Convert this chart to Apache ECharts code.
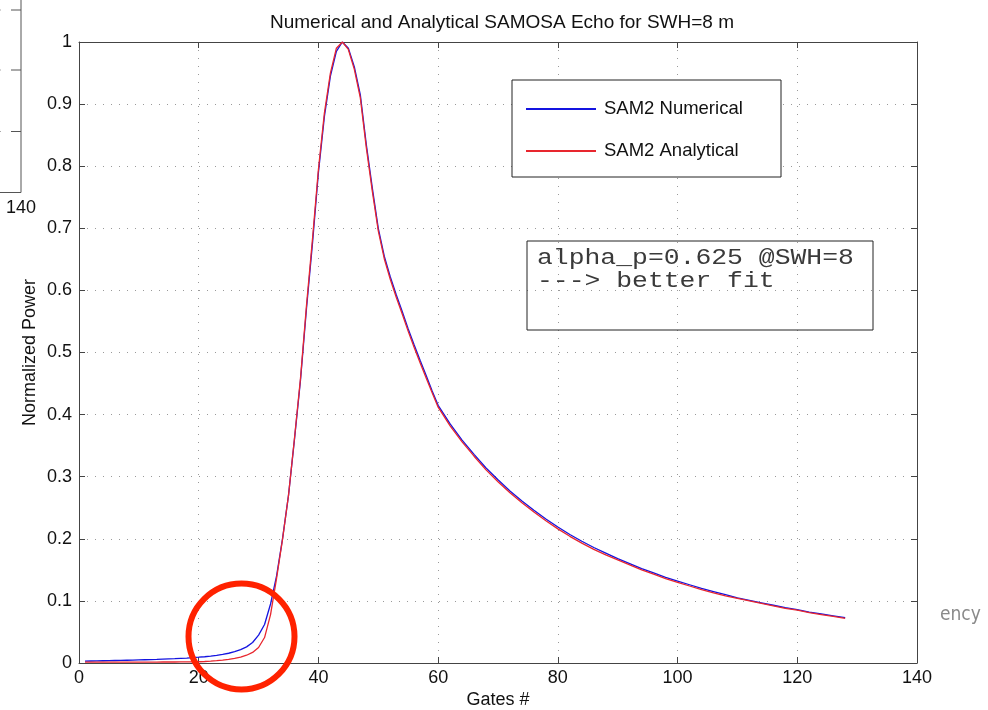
<!DOCTYPE html>
<html>
<head>
<meta charset="utf-8">
<script src="https://cdn.jsdelivr.net/npm/echarts@6/dist/echarts.min.js"></script>
<style>
html,body{margin:0;padding:0;background:#fff;}
#chart{width:988px;height:710px;}
</style>
</head>
<body>
<div id="chart"></div>
<script>
var gates = [1,2,3,4,5,6,7,8,9,10,11,12,13,14,15,16,17,18,19,20,
  21,22,23,24,25,26,27,28,29,30,31,32,33,34,35,36,37,38,39,40,
  41,42,43,44,45,46,47,48,49,50,51,52,53,54,55,56,57,58,59,60,
  62,64,66,68,70,72,74,76,78,80,82,84,86,88,90,92,94,96,98,100,
  102,104,106,108,110,112,114,116,118,120,122,124,126,128];

var numerical = [0.0030,0.0032,0.0034,0.0036,0.0038,0.0040,0.0042,0.0044,0.0046,0.0049,
  0.0052,0.0055,0.0058,0.0062,0.0066,0.0070,0.0075,0.0080,0.0086,0.0093,
  0.0101,0.0110,0.0122,0.0138,0.0157,0.0182,0.0215,0.0260,0.0330,0.0450,
  0.0620,0.0950,0.1400,0.2000,0.2700,0.3600,0.4550,0.5700,0.6750,0.7900,
  0.8800,0.9450,0.9850,1.0000,0.9900,0.9600,0.9150,0.8350,0.7650,0.7000,
  0.6550,0.6220,0.5930,0.5660,0.5380,0.5120,0.4870,0.4630,0.4380,0.4150,
  0.385,0.359,0.336,0.314,0.295,0.277,0.261,0.246,0.232,0.219,
  0.207,0.196,0.186,0.177,0.168,0.160,0.152,0.145,0.138,0.132,
  0.126,0.120,0.115,0.110,0.105,0.101,0.097,0.093,0.089,0.086,
  0.082,0.079,0.076,0.073];

var analytical = [0.0015,0.0015,0.0015,0.0015,0.0015,0.0015,0.0015,0.0015,0.0015,0.0015,
  0.0015,0.0015,0.0015,0.0016,0.0016,0.0016,0.0017,0.0017,0.0018,0.0020,
  0.0024,0.0030,0.0037,0.0047,0.0060,0.0075,0.0095,0.0125,0.0170,0.0250,
  0.0410,0.0780,0.1360,0.1990,0.2700,0.3620,0.4580,0.5750,0.6820,0.7950,
  0.8860,0.9500,0.9900,1.0000,0.9880,0.9560,0.9100,0.8300,0.7600,0.6960,
  0.6510,0.6180,0.5890,0.5620,0.5340,0.5080,0.4830,0.4590,0.4350,0.4120,
  0.382,0.356,0.333,0.311,0.292,0.274,0.258,0.243,0.229,0.216,
  0.204,0.193,0.183,0.174,0.166,0.158,0.150,0.143,0.136,0.130,
  0.124,0.118,0.113,0.108,0.104,0.100,0.096,0.092,0.088,0.085,
  0.081,0.078,0.075,0.072];

var seriesNames = ['SAM2 Numerical', 'SAM2 Analytical'];
var titleText = 'Numerical and Analytical SAMOSA Echo for SWH=8 m';
var xName = 'Gates #';
var yName = 'Normalized Power';
var noteText = 'alpha_p=0.625 @SWH=8\n---> better fit';

function pairs(xs, ys){ return xs.map(function(g,i){ return [g, ys[i]]; }); }

var FONT = '"Liberation Sans", Arial, sans-serif';
var axisColor = '#444';
var gridLine = {show:true, lineStyle:{color:'#9a9a9a', type:[1,7], width:1}};

var chart = echarts.init(document.getElementById('chart'), null, {renderer:'canvas'});
chart.setOption({
  animation:false,
  backgroundColor:'#fff',
  title:{text:titleText, left:497, top:8, textAlign:'center',
    textStyle:{fontFamily:FONT, fontSize:19, fontWeight:'normal', color:'#111'}},
  grid:{left:79, right:71, top:42, bottom:47, containLabel:false, outerBoundsMode:'none'},
  legend:{orient:'vertical', left:521, top:94, itemWidth:70, itemHeight:2, icon:'rect', itemGap:22,
    data:seriesNames,
    textStyle:{fontFamily:FONT, fontSize:18.5, color:'#111', lineHeight:20, padding:[0,0,0,3]}},
  xAxis:[
    {type:'value', min:0, max:140, interval:20, position:'bottom',
     name:xName, nameLocation:'middle', nameGap:28, nameMoveOverlap:false,
     nameTextStyle:{fontFamily:FONT, fontSize:18, color:'#111'},
     axisLine:{show:true, onZero:false, lineStyle:{color:axisColor, width:1}},
     axisTick:{show:true, inside:true, length:6, lineStyle:{color:axisColor}},
     axisLabel:{fontFamily:FONT, fontSize:18, color:'#111', margin:6},
     splitLine:gridLine},
    {type:'value', min:0, max:140, interval:20, position:'top',
     axisLine:{show:true, onZero:false, lineStyle:{color:axisColor, width:1}},
     axisTick:{show:true, inside:true, length:6, lineStyle:{color:axisColor}},
     axisLabel:{show:false}, splitLine:{show:false}}
  ],
  yAxis:[
    {type:'value', min:0, max:1, interval:0.1, position:'left',
     name:yName, nameLocation:'middle', nameGap:40, nameRotate:90, nameMoveOverlap:false,
     nameTextStyle:{fontFamily:FONT, fontSize:18, color:'#111'},
     axisLine:{show:true, onZero:false, lineStyle:{color:axisColor, width:1}},
     axisTick:{show:true, inside:true, length:6, lineStyle:{color:axisColor}},
     axisLabel:{fontFamily:FONT, fontSize:18, color:'#111', margin:7},
     splitLine:gridLine},
    {type:'value', min:0, max:1, interval:0.1, position:'right',
     axisLine:{show:true, onZero:false, lineStyle:{color:axisColor, width:1}},
     axisTick:{show:true, inside:true, length:6, lineStyle:{color:axisColor}},
     axisLabel:{show:false}, splitLine:{show:false}}
  ],
  series:[
    {name:seriesNames[0], type:'line', data:pairs(gates, numerical), showSymbol:false, symbol:'none',
     lineStyle:{color:'#1414e0', width:1.3}, itemStyle:{color:'#1414e0'}, z:2},
    {name:seriesNames[1], type:'line', data:pairs(gates, analytical), showSymbol:false, symbol:'none',
     lineStyle:{color:'#e8262e', width:1.3}, itemStyle:{color:'#e8262e'}, z:3}
  ],
  graphic:[
    {type:'rect', z:1, shape:{x:512, y:80, width:269, height:97}, style:{fill:'#fff', stroke:'#222', lineWidth:1}, silent:true},
    {type:'rect', z:100, shape:{x:527, y:241, width:346, height:89}, style:{fill:null, stroke:'#222', lineWidth:1}, silent:true},
    {type:'text', z:100, x:537, y:247, scaleX:1.2, scaleY:1,
     style:{text:noteText, font:'22px "Liberation Mono", "Courier New", monospace', fill:'#3a3a3a', lineHeight:23}},
    /* partial neighbouring figure at left edge */
    {type:'line', z:100, shape:{x1:21, y1:0, x2:21, y2:192.5}, style:{stroke:'#555', lineWidth:1}},
    {type:'line', z:100, shape:{x1:0, y1:192.5, x2:21, y2:192.5}, style:{stroke:'#555', lineWidth:1}},
    {type:'line', z:100, shape:{x1:11, y1:10, x2:21, y2:10}, style:{stroke:'#555', lineWidth:1}},
    {type:'line', z:100, shape:{x1:11, y1:70, x2:21, y2:70}, style:{stroke:'#555', lineWidth:1}},
    {type:'line', z:100, shape:{x1:11, y1:131.5, x2:21, y2:131.5}, style:{stroke:'#555', lineWidth:1}},
    {type:'line', z:100, shape:{x1:0, y1:10, x2:6, y2:10}, style:{stroke:'#aaa', lineWidth:1, lineDash:[1,5]}},
    {type:'line', z:100, shape:{x1:0, y1:70, x2:6, y2:70}, style:{stroke:'#aaa', lineWidth:1, lineDash:[1,5]}},
    {type:'line', z:100, shape:{x1:0, y1:131.5, x2:6, y2:131.5}, style:{stroke:'#aaa', lineWidth:1, lineDash:[1,5]}},
    {type:'text', z:100, x:21, y:208, style:{text:'140', font:'18px "Liberation Sans", Arial, sans-serif', fill:'#111', textAlign:'center', textVerticalAlign:'middle'}},
    /* cropped text at right edge */
    {type:'text', z:100, x:940, y:615, style:{text:'ency', font:'19px "DejaVu Sans Condensed", "Liberation Sans Narrow", sans-serif', fill:'#8a8a8a', textAlign:'left', textVerticalAlign:'middle'}},
    /* red highlight circle */
    {type:'circle', z:200, shape:{cx:241.5, cy:636.5, r:53}, style:{fill:null, stroke:'#ff2200', lineWidth:6}}
  ]
});
</script>
</body>
</html>
